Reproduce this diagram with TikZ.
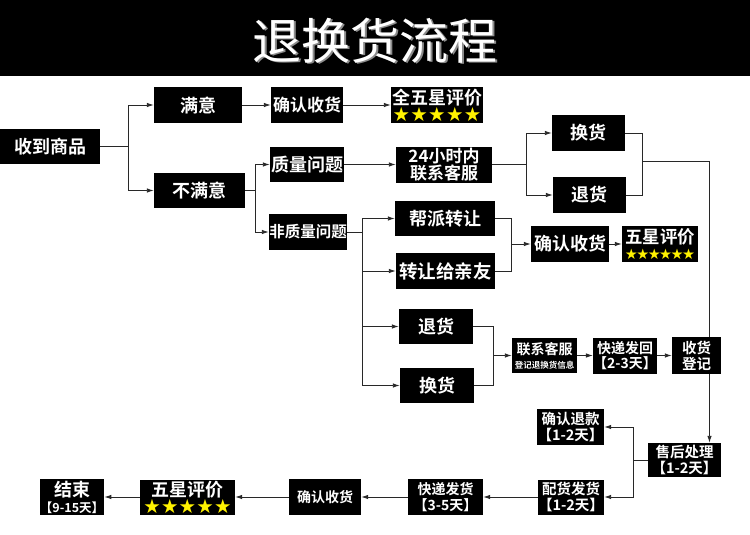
\documentclass[tikz,border=0pt]{standalone}
\usepackage{fontspec}
\newfontfamily\cjk{Noto Sans CJK SC}[BoldFont=* Bold]
\newfontfamily\dv{DejaVu Sans}
\usetikzlibrary{arrows.meta,backgrounds}
\definecolor{staryellow}{RGB}{255,242,0}
\definecolor{linegray}{RGB}{40,40,40}
\newcommand\myfs[2]{\fontsize{#1}{#2}\selectfont}
\newcommand\mystarsfive[2]{{\dv\fontsize{#1}{#1}\selectfont\color{staryellow}★\kern#2★\kern#2★\kern#2★\kern#2★}}
\newcommand\mystarssix[2]{{\dv\fontsize{#1}{#1}\selectfont\color{staryellow}★\kern#2★\kern#2★\kern#2★\kern#2★\kern#2★}}
\tikzset{
  box/.style={fill=black, text=white, inner sep=0pt, align=center},
  fnt/.style 2 args={font=\cjk\bfseries\myfs{#1}{#2}},
  conn/.style={draw=linegray, line width=0.9pt},
  arr/.style={conn, -{Latex[length=7pt,width=4.5pt]}},
}
\begin{document}
\begin{tikzpicture}[x=1pt,y=-1pt]
\useasboundingbox (0,0) rectangle (750,535);
% title bar
\fill[black] (0,0) rectangle (750,76);
\node[font=\cjk\myfs{49}{49}, text=black!45] (titleshadow) at (376.5,42) {退换货流程};
\node[font=\cjk\myfs{49}{49}, text=white] (title) at (375,40.5) {退换货流程};

% nodes
\node[box, fnt={18}{20}, minimum width=100pt, minimum height=35pt] (recv) at (50,146.5) {收到商品};
\node[box, fnt={18}{20}, minimum width=88pt, minimum height=36pt] (manyi) at (198,105) {满意};
\node[box, fnt={18}{20}, minimum width=91pt, minimum height=35pt] (bmy) at (199.5,190.5) {不满意};
\node[box, fnt={17}{20}, minimum width=72pt, minimum height=36pt] (qr1) at (307,105) {确认收货};
\node[box, fnt={18}{17}, minimum width=92pt, minimum height=35pt] (star1) at (437,105) {全五星评价\\\mystarsfive{19.5}{0.3pt}};
\node[box, fnt={18}{20}, minimum width=74pt, minimum height=35pt] (zl) at (307,164.5) {质量问题};
\node[box, fnt={17}{16.5}, minimum width=96pt, minimum height=36pt] (kf24) at (444,164.5) {24小时内\\联系客服};
\node[box, fnt={15.5}{18}, minimum width=78pt, minimum height=36pt] (fzl) at (308,232) {非质量问题};
\node[box, fnt={18}{20}, minimum width=100pt, minimum height=35pt] (bp) at (445,218.5) {帮派转让};
\node[box, fnt={18.5}{20}, minimum width=99pt, minimum height=36pt] (zr) at (445.5,271) {转让给亲友};
\node[box, fnt={18}{20}, minimum width=74pt, minimum height=35pt] (th2) at (436,326.5) {退货};
\node[box, fnt={18}{20}, minimum width=74pt, minimum height=35pt] (hh2) at (437,385.5) {换货};
\node[box, fnt={18}{20}, minimum width=73pt, minimum height=36pt] (hhR) at (588.5,133) {换货};
\node[box, fnt={18}{20}, minimum width=73pt, minimum height=36pt] (thR) at (589.5,195) {退货};
\node[box, fnt={18}{20}, minimum width=78pt, minimum height=36pt] (qr2) at (570,244) {确认收货};
\node[box, fnt={17.5}{16}, minimum width=76pt, minimum height=36pt] (star2) at (660,244) {五星评价\\\mystarssix{14.5}{-1.5pt}};
\node[box, fnt={14}{14}, minimum width=65pt, minimum height=35pt] (lx) at (544.5,355.5) {联系客服\\{\myfs{8.5}{10}登记退换货信息}};
\node[box, fnt={14}{15.5}, minimum width=62pt, minimum height=36pt] (kdh) at (625,355.5) {快递发回\\【2-3天】};
\node[box, fnt={14.5}{16}, minimum width=49pt, minimum height=37pt] (shdj) at (696.5,355.5) {收货\\登记};
\node[box, fnt={14.5}{15.5}, minimum width=67pt, minimum height=36pt] (qrtk) at (570.5,427) {确认退款\\【1-2天】};
\node[box, fnt={14.5}{15.5}, minimum width=73pt, minimum height=34pt] (shcl) at (684.5,460) {售后处理\\【1-2天】};
\node[box, fnt={14.5}{15.5}, minimum width=64pt, minimum height=35pt] (phfh) at (571,497) {配货发货\\【1-2天】};
\node[box, fnt={14}{15.5}, minimum width=75pt, minimum height=36pt] (kdfh) at (445.5,497) {快递发货\\【3-5天】};
\node[box, fnt={14}{16}, minimum width=72pt, minimum height=36pt] (qr3) at (325,497) {确认收货};
\node[box, fnt={18}{17}, minimum width=95pt, minimum height=35pt] (star3) at (187.5,497) {五星评价\\\mystarsfive{19.5}{0.2pt}};
\node[box, fnt={18}{16}, minimum width=62pt, minimum height=36pt] (endn) at (72,497) {结束\\{\myfs{12.5}{13}【9-15天】}};

\begin{scope}[on background layer]
\fill[white] (0,76) rectangle (750,535);
\coordinate (j1) at (128,146.5);
\draw[conn] (recv.east) -- (j1);
\draw[arr] (j1) |- (manyi.west);
\draw[arr] (j1) |- (bmy.west);
\draw[arr] (manyi.east) -- (qr1.west);
\draw[arr] (qr1.east) -- (star1.west);
\coordinate (j2) at (255,190.5);
\draw[conn] (bmy.east) -- (j2);
\draw[arr] (j2) |- (zl.west);
\draw[arr] (j2) |- (fzl.west);
\draw[arr] (zl.east) -- (kf24.west);
\coordinate (j3) at (526,164.5);
\draw[conn] (kf24.east) -- (j3);
\draw[arr] (j3) |- (hhR.west);
\draw[arr] (j3) |- (thR.west);
\coordinate (j4) at (642,161);
\draw[conn] (hhR.east) -| (j4);
\draw[conn] (thR.east) -| (j4);
\coordinate (vl) at (709.5,0);
\draw[arr] (j4) -| (shcl.north -| vl);
\coordinate (j5) at (362,232);
\draw[conn] (fzl.east) -- (j5);
\draw[arr] (j5) |- (bp.west);
\draw[arr] (j5) |- (zr.west);
\draw[arr] (j5) |- (th2.west);
\draw[arr] (j5) |- (hh2.west);
\coordinate (j6) at (511,244);
\draw[conn] (bp.east) -| (j6);
\draw[conn] (zr.east) -| (j6);
\draw[arr] (j6) -- (qr2.west);
\draw[arr] (qr2.east) -- (star2.west);
\coordinate (j7) at (493,355.5);
\draw[conn] (th2.east) -| (j7);
\draw[conn] (hh2.east) -| (j7);
\draw[arr] (j7) -- (lx.west);
\draw[arr] (lx.east) -- (kdh.west);
\draw[arr] (kdh.east) -- (shdj.west);
\coordinate (j8) at (633,460);
\draw[conn] (shcl.west) -- (j8);
\draw[arr] (j8) |- (qrtk.east);
\draw[arr] (j8) |- (phfh.east);
\draw[arr] (phfh.west) -- (kdfh.east);
\draw[arr] (kdfh.west) -- (qr3.east);
\draw[arr] (qr3.west) -- (star3.east);
\draw[arr] (star3.west) -- (endn.east);
\end{scope}
\end{tikzpicture}
\end{document}
